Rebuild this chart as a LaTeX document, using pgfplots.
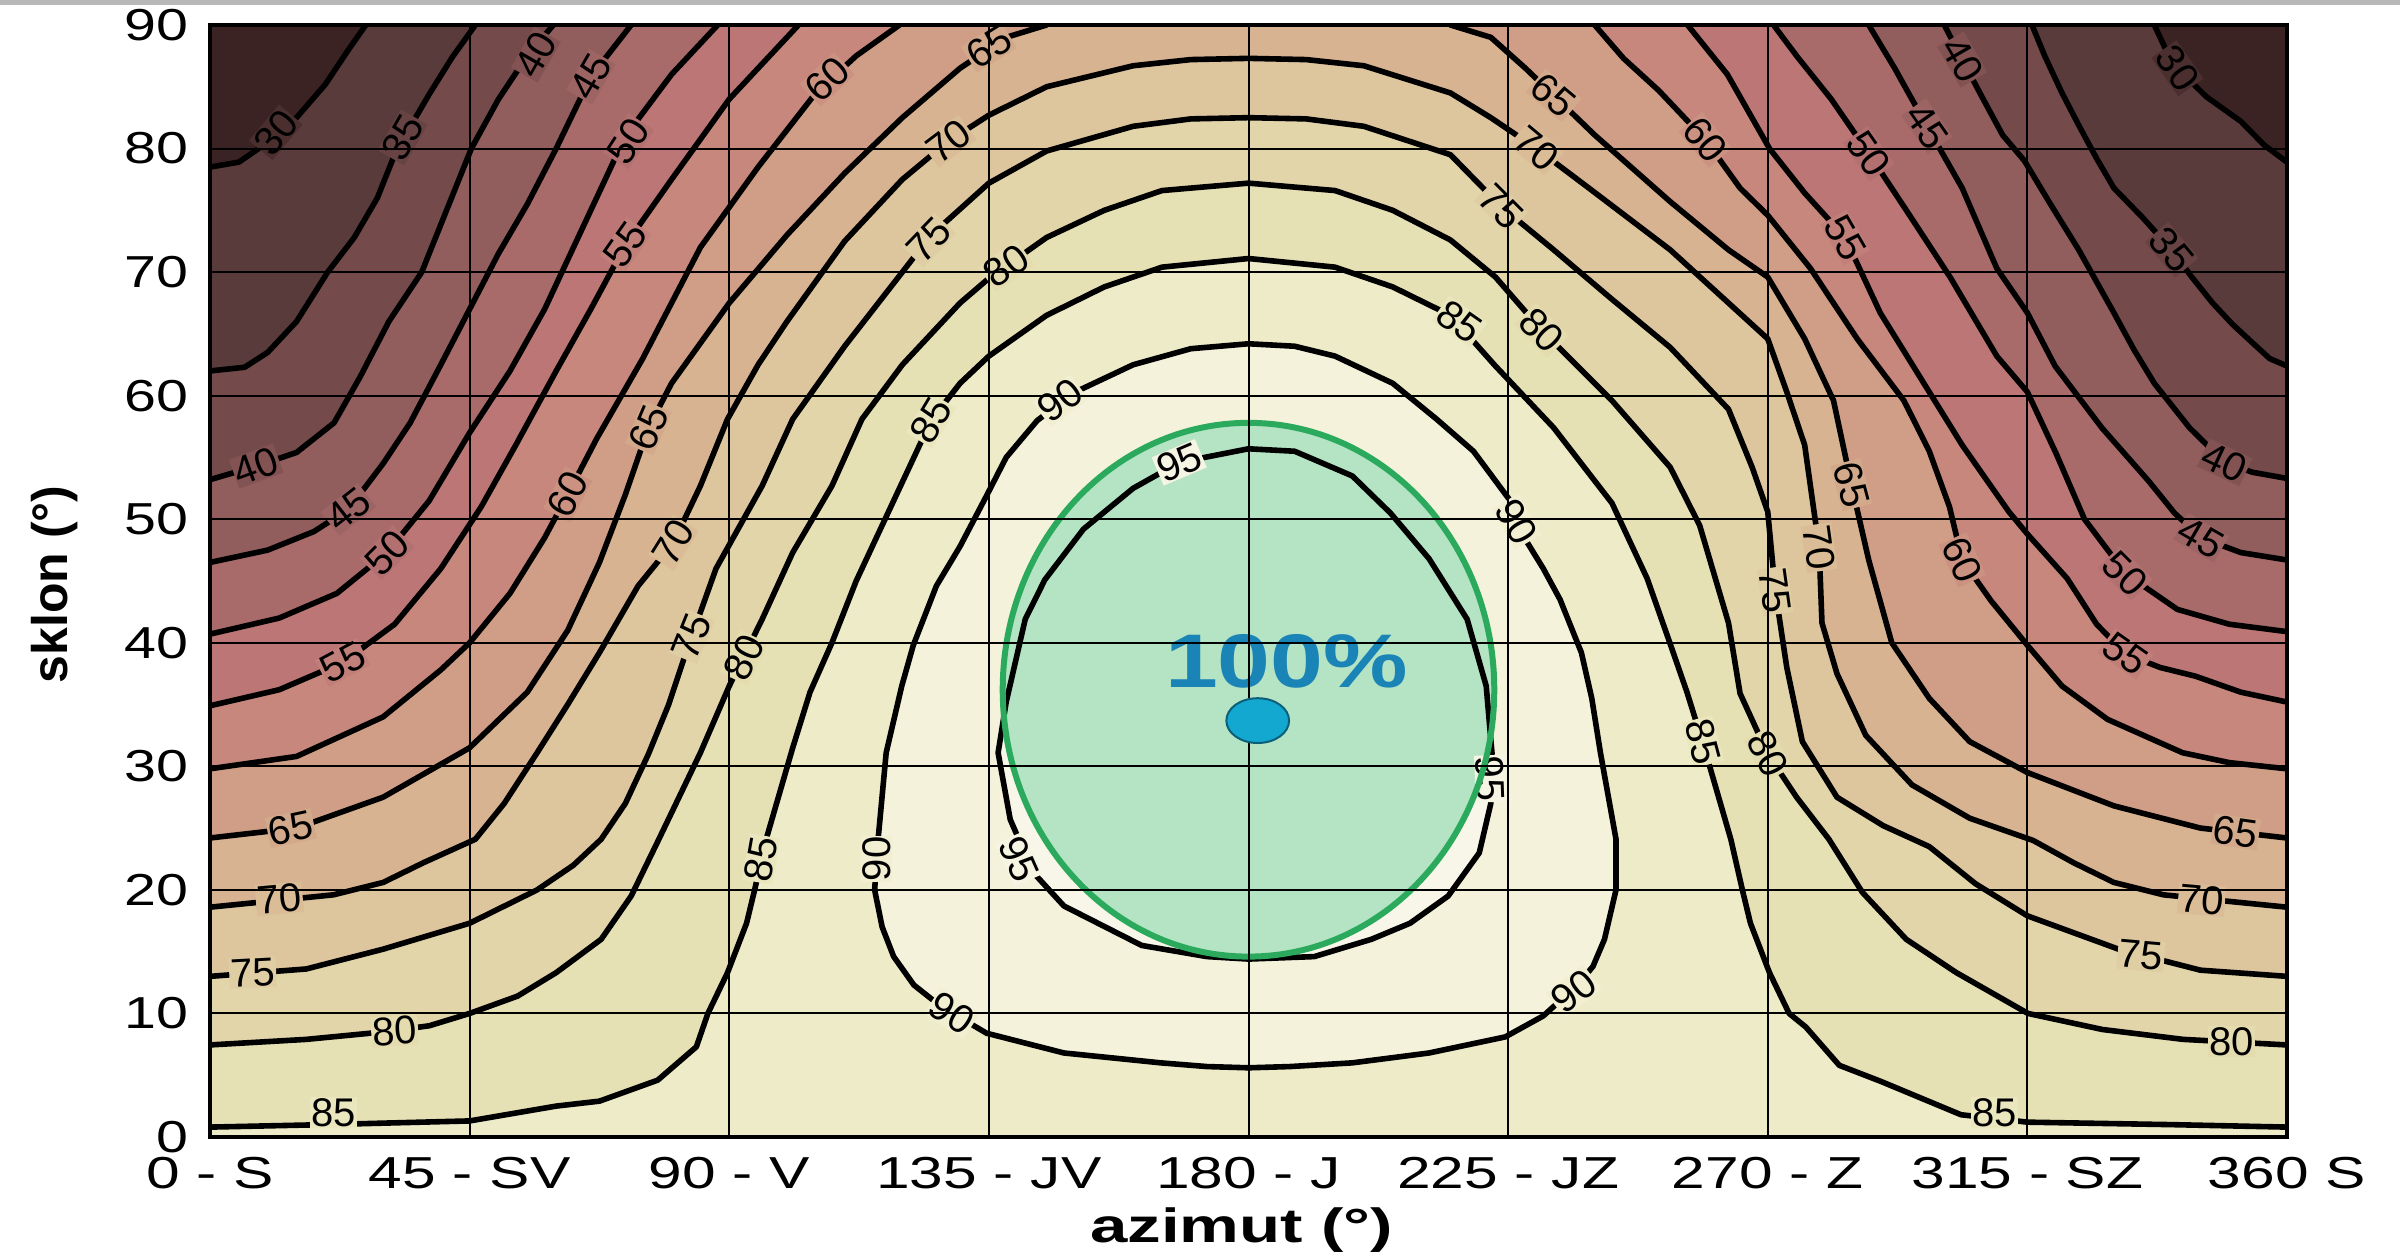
\documentclass[border=0pt]{standalone}
\usepackage{graphicx}
\usepackage{pgfplots}
\pgfplotsset{compat=1.18}
\usepackage{fontspec}
\setmainfont{Liberation Sans}
\usetikzlibrary{calc}

\definecolor{c25}{HTML}{3C2323}
\definecolor{c30}{HTML}{5A3B3B}
\definecolor{c35}{HTML}{744A4A}
\definecolor{c40}{HTML}{925D5D}
\definecolor{c45}{HTML}{A96A6A}
\definecolor{c50}{HTML}{BC7676}
\definecolor{c55}{HTML}{C7877C}
\definecolor{c60}{HTML}{D09E86}
\definecolor{c65}{HTML}{D7B391}
\definecolor{c70}{HTML}{DDC59E}
\definecolor{c75}{HTML}{E2D5AA}
\definecolor{c80}{HTML}{E6E1B5}
\definecolor{c85}{HTML}{EEEBC8}
\definecolor{c90}{HTML}{F5F2DC}
\definecolor{c95}{HTML}{F8F6E8}
\definecolor{ellfill}{HTML}{B4E4C4}
\definecolor{ellline}{HTML}{2BAA5E}
\definecolor{pct}{HTML}{1B84B6}
\definecolor{dotc}{HTML}{12A8D0}
\definecolor{dotb}{HTML}{0B5F7A}

\newcommand{\sx}[1]{\scalebox{1.28}[1]{#1}}
\newcommand{\sxx}[1]{\scalebox{1.35}[1]{#1}}
\newcommand{\clabf}{\fontsize{10}{12}\selectfont}
\newcommand{\clab}[5]{\node[font=\clabf, rotate=#3, fill=c#4!50!c#5, inner sep=0.3pt] at (axis cs:#1,#2) {#4};}

% contour lines (azimut, sklon)
\def\LA{(0,78.5) (5,78.9) (10,80.5) (15,82.5) (20,85.2) (24,88) (27,90)}
\def\RA{(337,90) (339,88) (341,86.5) (346,84.2) (352,82.2) (356,80.3) (360,78.9)}
\def\LB{(0,62) (6,62.3) (10,63.5) (15,66) (20.4,70) (25,72.8) (29,76) (32,79.5) (35,82) (38,84.4) (42,87.4) (46,90)}
\def\RB{(315.8,90) (318,87.5) (321,84.5) (324,81.8) (327,79.2) (330,76.8) (335,74.4) (340,71.8) (343.5,69.6) (347.1,67.5) (350.5,65.8) (354.2,64.2) (357,63) (360,62.4)}
\def\LC{(0,53.2) (8,54.3) (15,55.4) (21.5,57.8) (26,61.5) (31,66) (36.7,70) (41,75) (45.3,80) (50,84) (55,87.5) (59.5,90)}
\def\RC{(300.6,90) (303.7,87.2) (307,84.3) (310.7,81.1) (314.5,79) (319,75.5) (323.9,71.8) (330,66.7) (333.5,63.7) (337,61) (343.1,57.4) (349.2,54.6) (354,53.8) (360,53.3)}
\def\LD{(0,46.5) (10,47.5) (18,49) (24,50.8) (30,54.5) (34.7,57.8) (40,62.5) (45,67) (50,71.5) (55,75.5) (60,80) (66,85.8) (73,90)}
\def\RD{(287.5,90) (292,86.5) (297.6,81.8) (303.7,76.8) (309.7,70.3) (315,66.7) (319.8,62.4) (327.9,57.4) (336,53.1) (340.5,50.5) (345.1,48.5) (352,47.3) (360,46.7)}
\def\LE{(0,40.7) (12,42) (22,44) (30.7,47.3) (38,51.5) (45,57) (52,62) (58,67) (65,74) (72,81) (80,86) (88,90)}
\def\RE{(271,90) (275,87.5) (281,84) (287.5,79.6) (293.6,75.3) (301.6,69.6) (309.7,63.2) (315,60.3) (320,55.3) (324.9,50) (332,45.6) (341,42.7) (350,41.5) (360,40.9)}
\def\LF{(0,34.9) (12,36.2) (23,38.4) (32,41.5) (40,46) (47,51) (53,56) (60,62) (66,67) (72,72.2) (80,77.5) (90,84) (97,87.5) (102,90)}
\def\RF{(256.1,90) (263,86) (270.3,80) (276.4,76.4) (283.4,72.8) (289.5,66.7) (295.6,62.1) (303.7,56) (311.8,50.6) (315,48.8) (321.9,45.2) (327,41.5) (332,39.1) (338,38) (344.1,37.3) (352,36) (360,35.2)}
\def\LG{(0,29.8) (15,30.8) (30,34) (40,37.8) (45,40) (52,44) (58,48.5) (62,52) (67,56.5) (75,63) (85,72) (95,78.5) (105,84.5) (112,87.5) (119.5,90)}
\def\RG{(240,90) (245,87.3) (251.1,84.7) (259.2,80.7) (265.2,76.8) (270,74.6) (277.4,70.3) (285.5,64.6) (293.6,59.6) (298,55.5) (301.5,51) (303.7,46.7) (308.7,43.4) (315,39.8) (321,36.5) (328.9,33.8) (341.9,31.1) (350,30.3) (360,29.8)}
\def\LH{(0,24.2) (15,25) (30,27.5) (45,31.5) (55,36) (62,41) (67.5,46.5) (72,52) (76,57.4) (80,61) (90,67.5) (100,73) (110,78) (120,82.5) (130,86.5) (138,89) (145,90)}
\def\RH{(215,90) (222,89) (228,86.5) (232.9,84.3) (240,81.1) (253.1,75.7) (263.2,71.8) (270,69.6) (276.4,64.6) (281.4,59.6) (284.5,52.8) (287.5,46.7) (291.5,40) (298,35.5) (305,32) (315,29.5) (330,26.8) (345,25) (360,24.2)}
\def\FI{(0,18.6) (21.4,19.6) (30,20.6) (37,22.2) (46,24.1) (51,27) (56.7,31.1) (62,35) (67.5,39.2) (74.2,44.6) (80.3,48.1) (85,52.7) (89.7,58.1) (95,62.5) (100,66) (110,72.5) (120,77.5) (128,80.6) (135,82.7) (145,85) (160,86.7) (170,87.2) (180,87.3) (190,87.2) (200,86.7) (215,84.5) (222,82.5) (229.9,80) (239,76.8) (253.1,71.8) (263.2,67.5) (270,64.6) (273.3,60.3) (276.4,56) (278.9,47.7) (279.4,41.6) (282,37.5) (287,32.5) (295,28.5) (305,25.8) (316,24) (323,22.2) (330,20.6) (338.6,19.6) (360,18.6)}
\def\FJ{(0,13) (16.7,13.6) (30,15.2) (45,17.3) (56.7,20) (63,22) (67.8,24.1) (72,27) (76,31) (79.5,35) (82.5,39.2) (87.7,46) (95.7,52.7) (101,58.1) (110,64) (120,70) (125,73) (135,77.2) (145,79.8) (160,81.8) (170,82.4) (180,82.5) (190,82.4) (200,81.8) (215,79.5) (223.8,75.3) (232.9,71.8) (243,67.8) (253.1,63.9) (263.2,58.9) (267.3,54.2) (270,50.6) (271.3,44.2) (273.3,38) (276,32) (282,27.5) (290,25.2) (298,23.5) (306,20.5) (315,17.9) (330.8,15.2) (345,13.5) (360,13)}
\def\FK{(0,7.45) (16.7,7.9) (30,8.5) (38,9) (45,10) (53.3,11.4) (60,13.3) (67.8,16) (73,19.5) (77.8,24.1) (85,31.1) (90,36.5) (95.7,41.9) (101,47.3) (107.8,52.7) (113,58.1) (120,62.5) (130,67.5) (135,69.5) (145,72.8) (155,75) (165,76.6) (180,77.2) (195,76.6) (205,75) (215,72.6) (222.8,69.6) (230.8,65.3) (243,59.6) (253.1,54.2) (258.2,49.5) (263.2,41.6) (265.2,35.9) (270,31) (275,27.5) (280.6,24.1) (286.4,19.8) (294,16) (302.7,13.3) (315.1,10) (328,8.7) (342,7.9) (360,7.45)}
\def\FL{(0,0.8) (20,1) (45,1.3) (60,2.5) (67.5,2.9) (77.6,4.6) (84.3,7.3) (86.3,10) (89.7,13.3) (93,17.3) (94.4,20) (96.4,24.1) (101,31.5) (104,36) (107.8,40) (112,45) (117,50) (121,54) (125,58) (130,61) (135,63.2) (145,66.5) (155,68.8) (165,70.4) (180,71.1) (195,70.4) (205,68.8) (215,66.5) (222.8,62.4) (232.9,57.4) (243,51.3) (249.1,45.2) (253.1,39.9) (256,36) (259,31.5) (263.6,24.1) (265.6,20) (267,17.3) (270.3,13.3) (273.7,10) (276.6,8.9) (282.4,5.8) (289.6,4.5) (303.5,1.8) (315,1.2) (340,1) (360,0.8)}
\def\FM{(180,64.2) (170,63.8) (160,62.5) (150,60.3) (143.4,58) (138,55) (134.6,51.9) (130,47.8) (125.9,44.6) (121.9,39.8) (119.9,36.5) (117.2,31.1) (115.8,24.1) (115.2,20) (116.5,17) (118.5,14.6) (122,12.3) (126.6,10.6) (134.6,8.4) (148,6.8) (164.8,6) (172.8,5.7) (180,5.6) (187.2,5.7) (198,6) (211.3,6.8) (224.5,8.1) (231.1,9.8) (237,12.3) (239.7,13.8) (241.7,16) (243.7,20) (243.7,24.1) (241,31.1) (239.5,35.5) (237.7,39.2) (234,43.5) (231.1,46) (226.5,49.5) (225.2,51.6) (219,55.5) (212.6,58.1) (205,61) (195,63.2) (188,64)}
\def\FN{(180,55.7) (188,55.5) (198,53.5) (204.6,50.5) (211.3,46.8) (217.9,41.9) (221.2,36.5) (222.2,31.1) (222,27) (220,23) (214.6,19.5) (208,17.3) (201.3,16) (191.4,14.6) (180,14.4) (172.8,14.6) (161.5,15.5) (148,18.7) (142.7,21.4) (138.7,25.7) (136.6,31.1) (138,35.2) (141.3,41.9) (144.7,45.1) (151.4,49.2) (160,52.5) (168,54.6)}

\pgfplotsset{cline/.style={black, line width=1.4pt, line join=round, line cap=round}}
\newcommand{\fillarch}[2]{\edef\tmp{\noexpand\addplot[draw=none, fill=#1] coordinates {#2} \noexpand\closedcycle;}\tmp}
\newcommand{\fillloop}[2]{\edef\tmp{\noexpand\addplot[draw=none, fill=#1] coordinates {#2} -- cycle;}\tmp}
\newcommand{\cln}[1]{\edef\tmp{\noexpand\addplot[cline] coordinates {#1};}\tmp}
\newcommand{\clnloop}[1]{\edef\tmp{\noexpand\addplot[cline] coordinates {#1} -- cycle;}\tmp}

\begin{document}
\begin{tikzpicture}
\begin{axis}[
  name=ax,
  scale only axis, width=519.25pt, height=278pt,
  xmin=0, xmax=360, ymin=0, ymax=90,
  xtick={0,45,...,360},
  xticklabels={\sxx{0 - S},\sxx{45 - SV},\sxx{90 - V},\sxx{135 - JV},\sxx{180 - J},\sxx{225 - JZ},\sxx{270 - Z},\sxx{315 - SZ},\sxx{360 S}},
  ytick={0,10,...,90},
  yticklabels={\sx{0},\sx{10},\sx{20},\sx{30},\sx{40},\sx{50},\sx{60},\sx{70},\sx{80},\sx{90}},
  tick label style={font=\fontsize{11.2}{13}\selectfont, text=black},
  xticklabel style={yshift=-1.5pt},
  yticklabel style={xshift=-1.8pt},
  grid=major, major grid style={black, line width=0.5pt},
  axis line style={black, line width=0.8pt},
  major tick length=0pt,
  axis on top,
  xlabel={\scalebox{1.4}[1]{azimut (°)}}, ylabel={sklon (°)},
  every axis x label/.style={at={(axis description cs:0.4967,-0.0836)}, anchor=center, font=\bfseries\fontsize{12}{14}\selectfont},
  every axis y label/.style={at={(axis description cs:-0.0746,0.497)}, rotate=90, anchor=center, font=\bfseries\fontsize{12.5}{14}\selectfont},
]
% background (below 30 %)
\addplot[draw=none, fill=c25] coordinates {(0,0) (0,90) (360,90) (360,0)} -- cycle;
% filled bands
\fillarch{c30}{\LA\RA}
\fillarch{c35}{\LB\RB}
\fillarch{c40}{\LC\RC}
\fillarch{c45}{\LD\RD}
\fillarch{c50}{\LE\RE}
\fillarch{c55}{\LF\RF}
\fillarch{c60}{\LG\RG}
\fillarch{c65}{\LH\RH}
\fillarch{c70}{\FI}
\fillarch{c75}{\FJ}
\fillarch{c80}{\FK}
\fillarch{c85}{\FL}
\fillloop{c90}{\FM}
\fillloop{c95}{\FN}
% green ellipse (fill)
\fill[ellfill] (axis cs:180,36.2) ellipse [x radius=42.6, y radius=21.6];
% contour lines
\cln{\LA}\cln{\RA}
\cln{\LB}\cln{\RB}
\cln{\LC}\cln{\RC}
\cln{\LD}\cln{\RD}
\cln{\LE}\cln{\RE}
\cln{\LF}\cln{\RF}
\cln{\LG}\cln{\RG}
\cln{\LH}\cln{\RH}
\cln{\FI}
\cln{\FJ}
\cln{\FK}
\cln{\FL}
\clnloop{\FM}
\clnloop{\FN}
% contour labels, left
\clab{11.4}{81.3}{50}{30}{25}
\clab{33.4}{80.9}{60}{35}{30}
\clab{56.5}{87.6}{60}{40}{35}
\clab{8}{54.3}{20}{40}{35}
\clab{66}{85.8}{60}{45}{40}
\clab{24}{50.8}{38}{45}{40}
\clab{72.5}{80.6}{57}{50}{45}
\clab{30.7}{47.3}{45}{50}{45}
\clab{72}{72.2}{55}{55}{50}
\clab{23}{38.4}{28}{55}{50}
\clab{107}{85.6}{43}{60}{55}
\clab{62}{52}{62}{60}{55}
\clab{135}{88.2}{32}{65}{60}
\clab{76}{57.4}{67}{65}{60}
\clab{14}{25}{12}{65}{60}
\clab{128}{80.6}{37}{70}{65}
\clab{80.3}{48.1}{58}{70}{65}
\clab{12}{19.3}{5}{70}{65}
\clab{124.6}{72.6}{46}{75}{70}
\clab{83.5}{40.5}{68}{75}{70}
\clab{7.4}{13.3}{3}{75}{70}
\clab{138}{70.5}{35}{80}{75}
\clab{92.5}{38.8}{64}{80}{75}
\clab{32}{8.6}{4}{80}{75}
\clab{125}{58}{59}{85}{80}
\clab{95.5}{22.5}{80}{85}{80}
\clab{21.4}{2.0}{0}{85}{80}
\clab{147.4}{59.6}{37}{90}{85}
\clab{115.5}{22.5}{90}{90}{85}
\clab{128.6}{10}{-33}{90}{85}
\clab{168}{54.6}{23}{95}{90}
\clab{140.2}{22.5}{-66}{95}{90}
% contour labels, right
\clab{341}{86.5}{-55}{30}{25}
\clab{340}{71.8}{-50}{35}{30}
\clab{303.7}{87.2}{-60}{40}{35}
\clab{349.2}{54.6}{-25}{40}{35}
\clab{297.6}{81.8}{-55}{45}{40}
\clab{345.1}{48.5}{-30}{45}{40}
\clab{287.5}{79.6}{-55}{50}{45}
\clab{332}{45.6}{-45}{50}{45}
\clab{283.4}{72.8}{-60}{55}{50}
\clab{332}{39.1}{-35}{55}{50}
\clab{259.2}{80.7}{-50}{60}{55}
\clab{303.7}{46.7}{-65}{60}{55}
\clab{232.9}{84.3}{-40}{65}{60}
\clab{284.5}{52.8}{-75}{65}{60}
\clab{351.1}{24.7}{-8}{65}{60}
\clab{229.9}{80}{-40}{70}{65}
\clab{278.9}{47.7}{-82}{70}{65}
\clab{345.2}{19.2}{-5}{70}{65}
\clab{223.8}{75.3}{-45}{75}{70}
\clab{271.3}{44.2}{-82}{75}{70}
\clab{334.7}{14.7}{-5}{75}{70}
\clab{230.8}{65.3}{-45}{80}{75}
\clab{270}{31}{-62}{80}{75}
\clab{350.4}{7.7}{0}{80}{75}
\clab{216.6}{66}{-35}{85}{80}
\clab{258.8}{32}{-75}{85}{80}
\clab{309.3}{2}{0}{85}{80}
\clab{226.5}{49.8}{-60}{90}{85}
\clab{236.4}{11.8}{38}{90}{85}
\clab{221.9}{29}{-88}{95}{90}
% green ellipse (outline), optimum point and text
\draw[ellline, line width=1.5pt] (axis cs:180,36.2) ellipse [x radius=42.6, y radius=21.6];
\addplot[only marks, mark=*, mark size=5.6pt, mark options={fill=dotc, draw=dotb, line width=0.5pt, xscale=1.4}] coordinates {(181.6,33.7)};
\node[font=\bfseries\fontsize{19}{22}\selectfont, text=pct] at (axis cs:186.6,38.5) {\scalebox{1.25}[1]{100\%}};
\end{axis}
\pgfresetboundingbox
\path[use as bounding box] ($(ax.south west)+(-52.5pt,-30.75pt)$) rectangle ($(ax.north east)+(28.25pt,6.25pt)$);
\fill[black!28] ($(ax.north west)+(-52.5pt,6.25pt)$) rectangle ($(ax.north east)+(28.25pt,5.1pt)$);
\end{tikzpicture}
\end{document}
